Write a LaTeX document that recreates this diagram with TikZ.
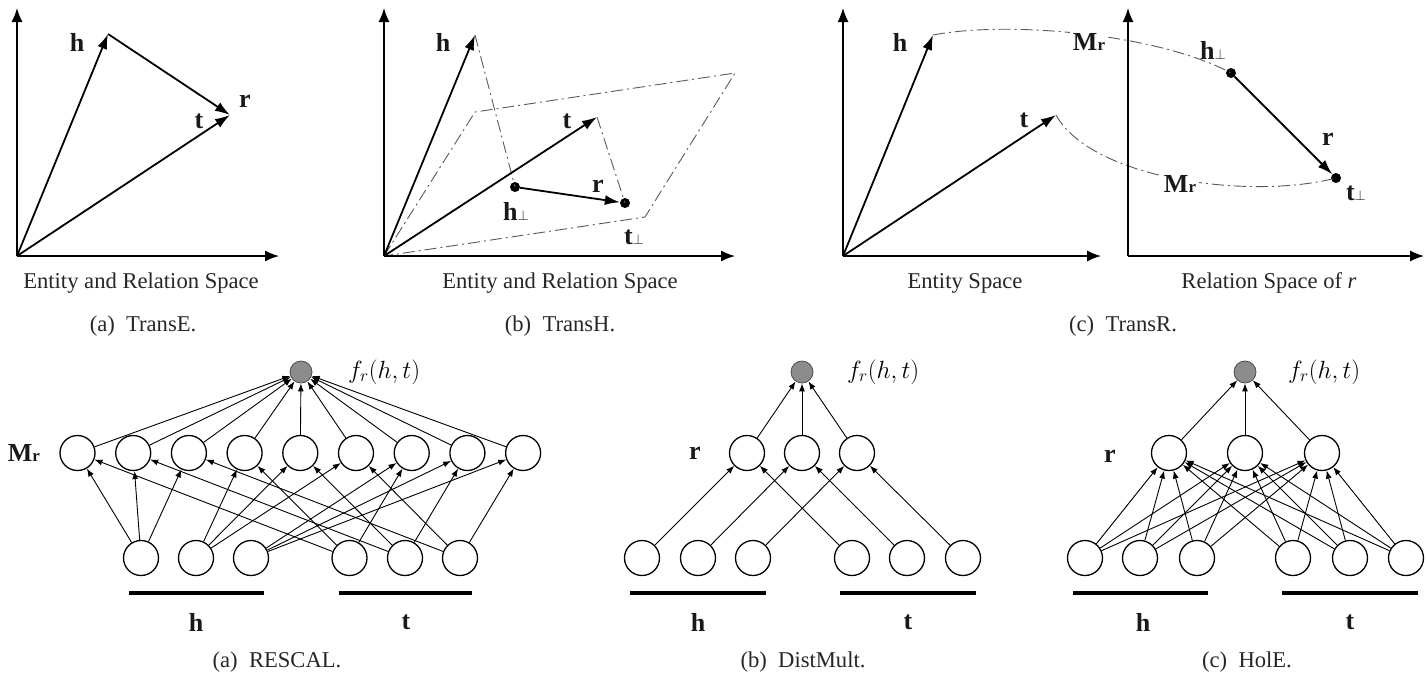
\documentclass[tikz,border=0pt]{standalone}
\usepackage{fontspec}
\setmainfont{Liberation Serif}
\usetikzlibrary{arrows.meta}
\newcommand{\Mr}{\textbf{M}{\fontsize{17}{17}\selectfont r}}
\newcommand{\perpsub}[1]{\textbf{#1}{\fontsize{15}{15}\selectfont$\perp$}}
\tikzset{
  axis/.style={line width=1.4pt, -{Latex[length=14pt,width=11pt]}},
  vec/.style={line width=1.8pt, -{Latex[length=15pt,width=10pt]}},
  proj/.style={line width=0.9pt, draw=black!65, dash pattern=on 12pt off 4pt on 2pt off 4pt},
  lbl/.style={font=\fontsize{26}{30}\selectfont\bfseries, inner sep=0pt, text=black!90},
  txt/.style={font=\fontsize{22.6}{27}\selectfont, inner sep=0pt, text=black!85},
  dot/.style={circle, fill=black, inner sep=0pt, minimum size=10pt},
  unit/.style={circle, draw, line width=1.3pt, minimum size=35pt, inner sep=0pt},
  outn/.style={circle, draw=black!70, fill=black!45, line width=0.8pt, minimum size=22pt, inner sep=0pt},
  edge/.style={line width=0.9pt, -{Latex[length=8pt,width=6pt]}},
  bar/.style={line width=3.5pt},
  flab/.style={font=\fontsize{25}{29}\selectfont, inner sep=0pt, anchor=west},
}
\begin{document}
\begin{tikzpicture}[x=1pt,y=-1pt]
\useasboundingbox (0,0) rectangle (1426,673);

% ---------- TransE ----------
\coordinate (eO) at (17,256);
\coordinate (eY) at (17,8);
\coordinate (eX) at (279,256);
\coordinate (eh) at (108,34);
\coordinate (et) at (230,115);
\draw[axis] (eO) -- (eY);
\draw[axis] (eO) -- (eX);
\draw[vec] (eO) -- (eh);
\draw[vec] (eh) -- (et);
\draw[vec] (eO) -- (et);
\node[lbl] (ehl) at (77,42) {h};
\node[lbl] (erl) at (245,101) {r};
\node[lbl] (etl) at (199,121) {t};
\node[txt] (ecap1) at (141,283) {Entity and Relation Space};
\node[txt] (ecap2) at (143,326) {(a)\ \ TransE.};

% ---------- TransH ----------
\coordinate (hO) at (384,256);
\coordinate (hY) at (384,8);
\coordinate (hX) at (735,256);
\coordinate (hh) at (475,35);
\coordinate (ht) at (597,117);
\coordinate (hP1) at (475,112);
\coordinate (hP2) at (735,73);
\coordinate (hP3) at (645,217);
\node[dot] (hhp) at (515,187) {};
\node[dot] (htp) at (625,203) {};
\draw[proj] (hO) -- (hP1) -- (hP2) -- (hP3) -- cycle;
\draw[proj] (hh) -- (hhp.center);
\draw[proj] (ht) -- (htp.center);
\draw[axis] (hO) -- (hY);
\draw[axis] (hO) -- (hX);
\draw[vec] (hO) -- (hh);
\draw[vec] (hO) -- (ht);
\draw[vec] (hhp) -- (htp);
\node[lbl] (hhl) at (443,42) {h};
\node[lbl] (htl) at (567,121) {t};
\node[lbl] (hrl) at (598,186) {r};
\node[lbl] (hhpl) at (516,211) {\perpsub{h}};
\node[lbl] (htpl) at (634,237) {\perpsub{t}};
\node[txt] (hcap1) at (560,283) {Entity and Relation Space};
\node[txt] (hcap2) at (560,326) {(b)\ \ TransH.};

% ---------- TransR ----------
\coordinate (rO) at (843,256);
\coordinate (rY) at (843,8);
\coordinate (rX) at (1101,256);
\coordinate (rh) at (933,35);
\coordinate (rt) at (1056,115);
\coordinate (sO) at (1128,256);
\coordinate (sY) at (1128,8);
\coordinate (sX) at (1424,256);
\node[dot] (rhp) at (1231,73) {};
\node[dot] (rtp) at (1336,178) {};
\draw[proj] (rh) .. controls (1012,20) and (1161,35) .. (rhp.center);
\draw[proj] (rt) .. controls (1092,180) and (1252,200) .. (rtp.center);
\draw[axis] (rO) -- (rY);
\draw[axis] (rO) -- (rX);
\draw[axis] (sO) -- (sY);
\draw[axis] (sO) -- (sX);
\draw[vec] (rO) -- (rh);
\draw[vec] (rO) -- (rt);
\draw[vec] (rhp) -- (rtp);
\node[lbl] (rhl) at (900,42) {h};
\node[lbl] (rtl) at (1024,120) {t};
\node[lbl, fill=white, inner sep=3pt] (rM1) at (1089,42) {\Mr};
\node[lbl, fill=white, inner sep=3pt] (rM2) at (1180,184) {\Mr};
\node[lbl] (rhpl) at (1213,50) {\perpsub{h}};
\node[lbl] (rrl) at (1328,139) {r};
\node[lbl] (rtpl) at (1356,193) {\perpsub{t}};
\node[txt] (rcap1) at (965,283) {Entity Space};
\node[txt] (rcap2) at (1269,283) {Relation Space of \textit{r}};
\node[txt] (rcap3) at (1123,326) {(c)\ \ TransR.};

% ---------- RESCAL ----------
\node[outn] (aT) at (301,372) {};
\node[flab] (aF) at (348,372) {$f_r(h,t)$};
\foreach \k in {1,...,9} {
  \node[unit] (aM\k) at ({77.5+55.7*(\k-1)},453) {};
  \draw[edge] (aM\k) -- (aT);
}
\node[lbl] (aMl) at (24,453) {\Mr};
\node[unit] (aH1) at (141,558) {};
\node[unit] (aH2) at (196,558) {};
\node[unit] (aH3) at (251,558) {};
\node[unit] (aT1) at (349.5,558) {};
\node[unit] (aT2) at (405,558) {};
\node[unit] (aT3) at (460,558) {};
\foreach \i in {1,2,3} {
  \foreach \j in {1,2,3} {
    \pgfmathtruncatemacro{\k}{3*(\i-1)+\j}
    \draw[edge] (aH\i) -- (aM\k);
    \draw[edge] (aT\j) -- (aM\k);
  }
}
\coordinate (aBh1) at (129,593); \coordinate (aBh2) at (264,593);
\coordinate (aBt1) at (339,593); \coordinate (aBt2) at (472,593);
\draw[bar] (aBh1) -- (aBh2);
\draw[bar] (aBt1) -- (aBt2);
\node[lbl] (aHl) at (196,622) {h};
\node[lbl] (aTl) at (406,622) {t};
\node[txt] (acap) at (277,662) {(a)\ \ RESCAL.};

% ---------- DistMult ----------
\node[outn] (bT) at (802,372) {};
\node[flab] (bF) at (847,372) {$f_r(h,t)$};
\node[unit] (bR1) at (747,453) {};
\node[unit] (bR2) at (802,453) {};
\node[unit] (bR3) at (857,453) {};
\node[lbl] (bRl) at (695,453) {r};
\node[unit] (bH1) at (642,558) {};
\node[unit] (bH2) at (698,558) {};
\node[unit] (bH3) at (753,558) {};
\node[unit] (bT1) at (852,558) {};
\node[unit] (bT2) at (907,558) {};
\node[unit] (bT3) at (963,558) {};
\foreach \i in {1,2,3} {
  \draw[edge] (bR\i) -- (bT);
  \draw[edge] (bH\i) -- (bR\i);
  \draw[edge] (bT\i) -- (bR\i);
}
\coordinate (bBh1) at (630,593); \coordinate (bBh2) at (766,593);
\coordinate (bBt1) at (840,593); \coordinate (bBt2) at (976,593);
\draw[bar] (bBh1) -- (bBh2);
\draw[bar] (bBt1) -- (bBt2);
\node[lbl] (bHl) at (698,622) {h};
\node[lbl] (bTl) at (908,622) {t};
\node[txt] (bcap) at (803,662) {(b)\ \ DistMult.};

% ---------- HolE ----------
\node[outn] (cT) at (1245,372) {};
\node[flab] (cF) at (1288,372) {$f_r(h,t)$};
\node[unit] (cR1) at (1169,453) {};
\node[unit] (cR2) at (1245,453) {};
\node[unit] (cR3) at (1322,453) {};
\node[lbl] (cRl) at (1110,456) {r};
\node[unit] (cH1) at (1085,558) {};
\node[unit] (cH2) at (1140,558) {};
\node[unit] (cH3) at (1197,558) {};
\node[unit] (cT1) at (1293,558) {};
\node[unit] (cT2) at (1350,558) {};
\node[unit] (cT3) at (1406,558) {};
\foreach \i in {1,2,3} {
  \draw[edge] (cR\i) -- (cT);
  \foreach \j in {1,2,3} {
    \draw[edge] (cH\i) -- (cR\j);
    \draw[edge] (cT\i) -- (cR\j);
  }
}
\coordinate (cBh1) at (1073,593); \coordinate (cBh2) at (1208,593);
\coordinate (cBt1) at (1282,593); \coordinate (cBt2) at (1418,593);
\draw[bar] (cBh1) -- (cBh2);
\draw[bar] (cBt1) -- (cBt2);
\node[lbl] (cHl) at (1143,622) {h};
\node[lbl] (cTl) at (1350,622) {t};
\node[txt] (ccap) at (1247,662) {(c)\ \ HolE.};
\end{tikzpicture}
\end{document}
